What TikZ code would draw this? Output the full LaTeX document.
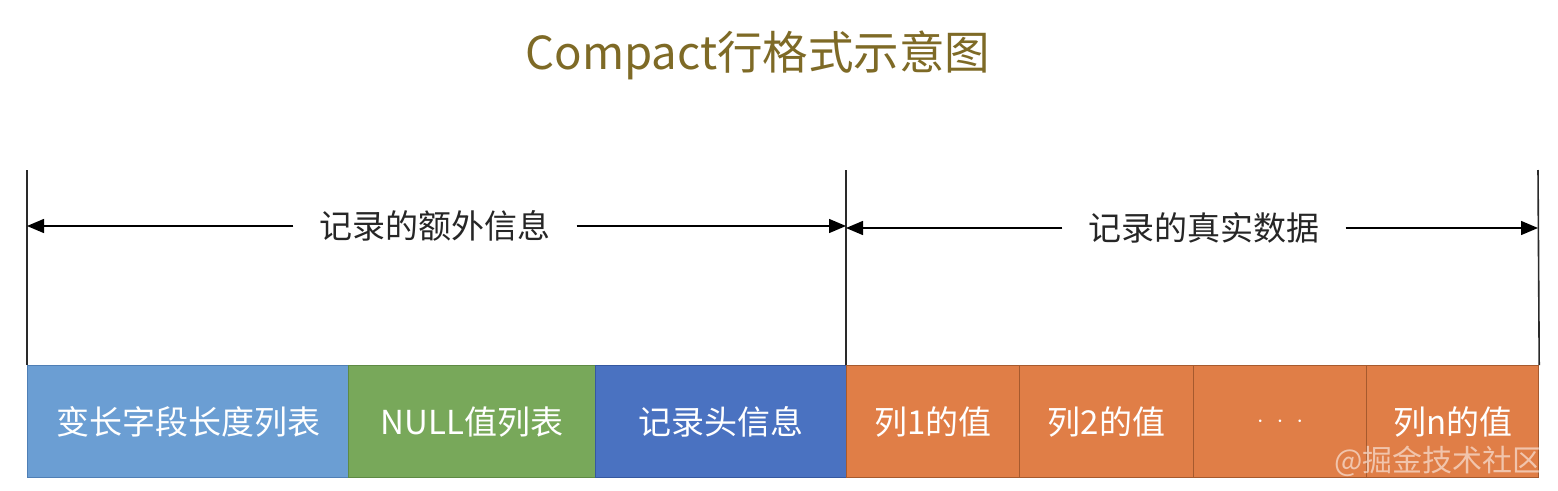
\documentclass[tikz,border=0pt]{standalone}
\usepackage{fontspec}
\setmainfont{Noto Sans CJK SC}
\usetikzlibrary{arrows.meta}
\definecolor{titlec}{HTML}{7E6A26}
\definecolor{lblue}{HTML}{6B9ED3}
\definecolor{lblueb}{HTML}{4F7FB5}
\definecolor{green}{HTML}{78A85A}
\definecolor{greenb}{HTML}{5E8A44}
\definecolor{dblue}{HTML}{4A72C1}
\definecolor{dblueb}{HTML}{3558A0}
\definecolor{orng}{HTML}{E07E47}
\definecolor{orngb}{HTML}{A65A2E}
\definecolor{linec}{HTML}{2A2A2A}
\begin{document}
\begin{tikzpicture}[x=1pt,y=-1pt,
  cell/.style={draw=#1, line width=1.2pt, minimum height=112pt, anchor=north west, inner sep=0pt,
     text=white, font=\fontsize{33}{38}\selectfont},
  vline/.style={draw=linec, line width=1.6pt},
  dim/.style={draw=black, line width=1.4pt, -{Triangle[length=17pt,width=14pt]}},
  lbl/.style={font=\fontsize{33}{38}\selectfont, text=black!85, inner sep=0pt}]
\useasboundingbox (0,0) rectangle (1558,490);
\fill[white] (0,0) rectangle (1558,490);
% title
\node[font=\fontsize{45.5}{52}\selectfont, text=titlec, inner sep=0pt] (title) at (758,55) {Compact行格式示意图};
% boxes
\node[cell=lblueb, fill=lblue, minimum width=321pt] (b1) at (27,365) {变长字段长度列表};
\node[cell=greenb, fill=green, minimum width=247pt] (b2) at (348,365) {NULL值列表};
\node[cell=dblueb, fill=dblue, minimum width=251pt] (b3) at (595,365) {记录头信息};
\node[cell=orngb, fill=orng, minimum width=173pt] (c1) at (846,365) {列1的值};
\node[cell=orngb, fill=orng, minimum width=174pt] (c2) at (1019,365) {列2的值};
\node[cell=orngb, fill=orng, minimum width=173pt] (c3) at (1193,365) {$\cdot\ \cdot\ \cdot$};
\node[cell=orngb, fill=orng, minimum width=172pt] (c4) at (1366,365) {列n的值};
% vertical lines
\coordinate (t1) at (27,170);
\coordinate (t2) at (846,170);
\coordinate (t3) at (1538,170);
\draw[vline] (t1) -- (b1.north west);
\draw[vline] (t2) -- (c1.north west);
\draw[vline] (t3) -- (c4.north east);
% dimension labels
\node[lbl] (l1) at (435,226) {记录的额外信息};
\node[lbl] (l2) at (1204,228) {记录的真实数据};
\coordinate (a1) at (27,226);
\coordinate (a2) at (846,226);
\coordinate (a3) at (846,228);
\coordinate (a4) at (1538,228);
\draw[dim] ([xshift=-26pt]l1.west) -- (a1);
\draw[dim] ([xshift=26pt]l1.east) -- (a2);
\draw[dim] ([xshift=-26pt]l2.west) -- (a3);
\draw[dim] ([xshift=26pt]l2.east) -- (a4);
% watermark
\node[font=\fontsize{30}{34}\selectfont, text=white, opacity=0.55, inner sep=0pt, anchor=east] (wm) at (1543,461) {@掘金技术社区};
\end{tikzpicture}
\end{document}
